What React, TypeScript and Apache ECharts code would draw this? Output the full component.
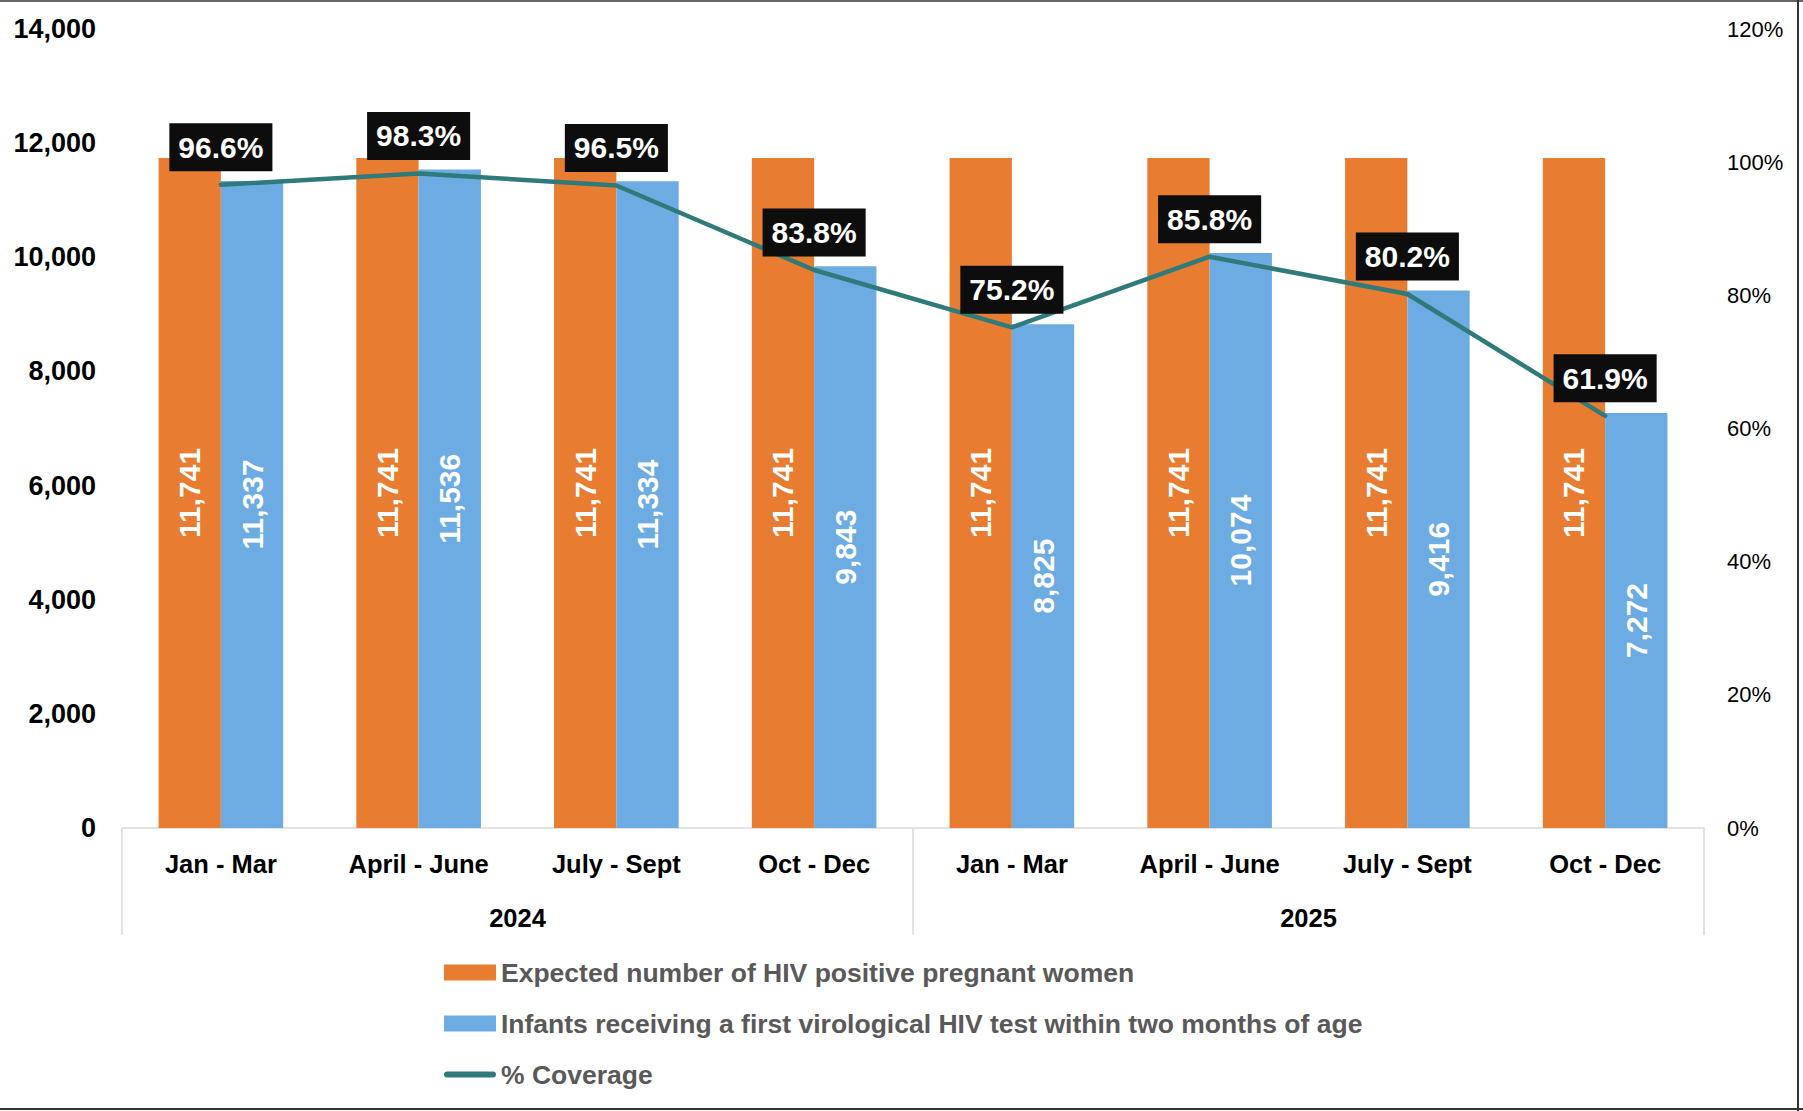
import React, { useEffect, useRef } from "react";
import * as echarts from "echarts";

const quarters = ["Jan - Mar", "April - June", "July - Sept", "Oct - Dec", "Jan - Mar", "April - June", "July - Sept", "Oct - Dec"];
const years = ["2024", "2025"];
const expected = [11741, 11741, 11741, 11741, 11741, 11741, 11741, 11741];
const infants = [11337, 11536, 11334, 9843, 8825, 10074, 9416, 7272];
const coverage = [96.6, 98.3, 96.5, 83.8, 75.2, 85.8, 80.2, 61.9];
const leftTicks = { min: 0, max: 14000, interval: 2000 };
const rightTicks = { min: 0, max: 120, interval: 20 };

const FONT = "'Liberation Sans', Arial, sans-serif";
const fmt = (v: number) => v.toLocaleString("en-US");
const LINE_ICON = "path://M3,0 H49 A3,3 0 0 1 49,6 H3 A3,3 0 0 1 3,0 Z";

export default function App() {
  const ref = useRef<HTMLDivElement>(null);
  useEffect(() => {
    if (!ref.current) return;
    const chart = echarts.init(ref.current, null, { renderer: "svg" });
    const barLabel = {
      show: true,
      position: "inside",
      rotate: 90,
      color: "#fff",
      fontFamily: FONT,
      fontSize: 30,
      fontWeight: "bold",
      formatter: (p: any) => fmt(p.value),
    };
    chart.setOption({
      animation: false,
      backgroundColor: "#ffffff",
      textStyle: { fontFamily: FONT },
      grid: { left: 122, right: 99, top: 29, bottom: 283, containLabel: false },
      legend: {
        orient: "vertical",
        left: 439,
        top: 954,
        itemWidth: 52,
        itemHeight: 16,
        itemGap: 24,
        textStyle: { fontFamily: FONT, fontSize: 26.5, fontWeight: "bold", color: "#595959" },
        data: [
          { name: "Expected number of HIV positive pregnant women", icon: "rect" },
          { name: "Infants receiving a first virological HIV test within two months of age", icon: "rect" },
          { name: "% Coverage", icon: LINE_ICON },
        ],
      },
      xAxis: [
        {
          type: "category",
          data: quarters,
          position: "bottom",
          axisLine: { show: true, lineStyle: { color: "#d9d9d9", width: 1.5 } },
          axisTick: { show: false },
          axisLabel: { interval: 0, margin: 23, fontFamily: FONT, fontSize: 25.5, fontWeight: "bold", color: "#000" },
        },
        {
          type: "category",
          data: years,
          position: "bottom",
          axisLine: { show: false },
          axisTick: { show: true, length: 107, lineStyle: { color: "#d9d9d9", width: 1.5 } },
          axisLabel: { interval: 0, margin: 77, fontFamily: FONT, fontSize: 25.5, fontWeight: "bold", color: "#000" },
          axisPointer: { show: false },
        },
      ],
      yAxis: [
        {
          type: "value",
          min: leftTicks.min,
          max: leftTicks.max,
          interval: leftTicks.interval,
          splitLine: { show: false },
          axisLine: { show: false },
          axisTick: { show: false },
          axisLabel: { margin: 26, fontFamily: FONT, fontSize: 27, fontWeight: "bold", color: "#000", formatter: (v: number) => fmt(v) },
        },
        {
          type: "value",
          min: rightTicks.min,
          max: rightTicks.max,
          interval: rightTicks.interval,
          position: "right",
          splitLine: { show: false },
          axisLine: { show: false },
          axisTick: { show: false },
          axisLabel: { margin: 23, fontFamily: FONT, fontSize: 22, color: "#000", formatter: "{value}%" },
        },
      ],
      series: [
        {
          name: "Expected number of HIV positive pregnant women",
          type: "bar",
          data: expected,
          barGap: "0%",
          barCategoryGap: "37%",
          itemStyle: { color: "#E87D31" },
          label: barLabel,
        },
        {
          name: "Infants receiving a first virological HIV test within two months of age",
          type: "bar",
          data: infants,
          itemStyle: { color: "#6CACE3" },
          label: barLabel,
        },
        {
          name: "% Coverage",
          type: "line",
          yAxisIndex: 1,
          data: coverage,
          symbol: "circle",
          symbolSize: 1,
          showSymbol: true,
          z: 5,
          lineStyle: { color: "#2F7A7A", width: 4.5, cap: "round" },
          itemStyle: { color: "#2F7A7A" },
          label: {
            show: true,
            position: "top",
            distance: 13,
            backgroundColor: "#0d0d0d",
            color: "#fff",
            fontFamily: FONT,
            fontSize: 30,
            lineHeight: 30,
            fontWeight: "bold",
            padding: [9, 9],
            formatter: (p: any) => p.value.toFixed(1) + "%",
          },
          labelLayout: { hideOverlap: false },
        },
      ],
      graphic: [
        { type: "line", shape: { x1: 0, y1: 1, x2: 1803, y2: 1 }, style: { stroke: "#666", lineWidth: 2 } },
        { type: "line", shape: { x1: 1798, y1: 0, x2: 1798, y2: 1111 }, style: { stroke: "#333", lineWidth: 2 } },
        { type: "line", shape: { x1: 0, y1: 1109, x2: 1803, y2: 1109 }, style: { stroke: "#333", lineWidth: 2 } },
      ],
    });
    return () => chart.dispose();
  }, []);
  return <div ref={ref} style={{ position: "absolute", left: 0, top: 0, width: 1803, height: 1111 }} />;
}
